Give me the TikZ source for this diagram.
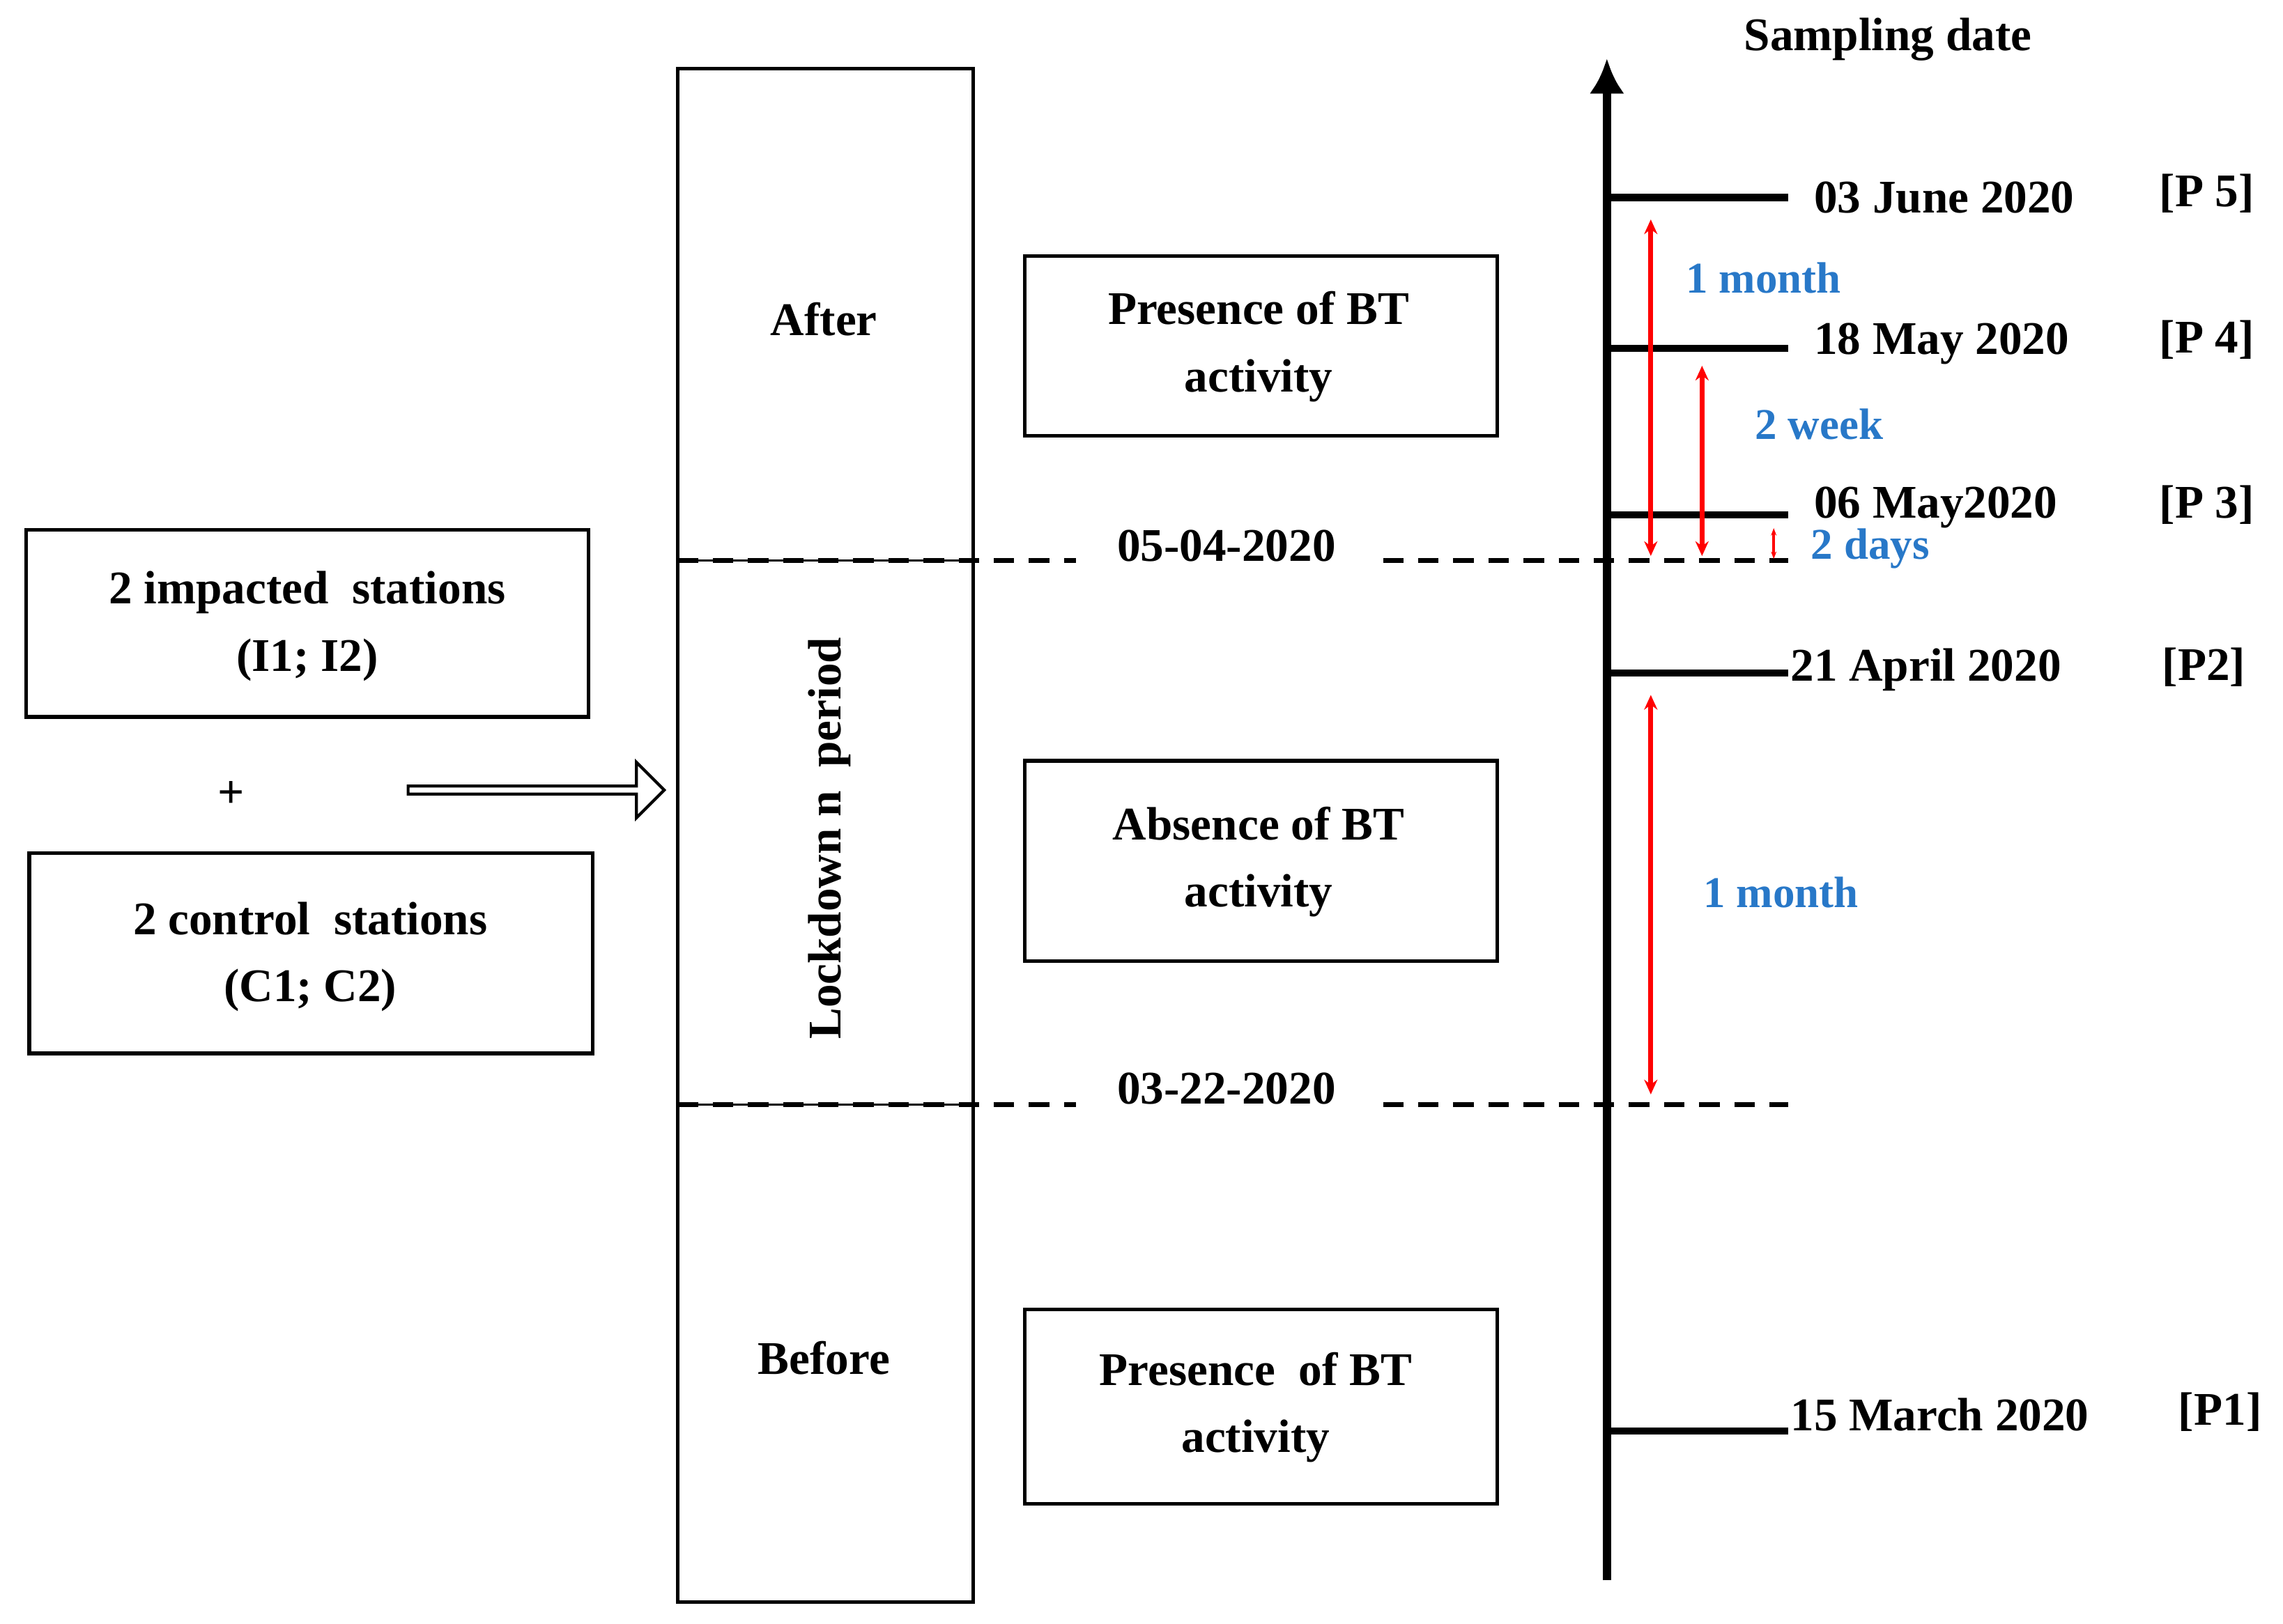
\documentclass[tikz,border=0pt]{standalone}
\usepackage{fontspec}
\setmainfont{Liberation Serif}
\usetikzlibrary{arrows.meta,shapes.arrows}
\definecolor{lblue}{RGB}{40,120,200}
\begin{document}
\begin{tikzpicture}[x=1pt,y=-1pt,
  every node/.style={font=\fontsize{32}{46}\selectfont\bfseries},
  box/.style={draw,line width=2.4pt},
  tick/.style={line width=5pt},
  dline/.style={line width=3.2pt,dash pattern=on 14pt off 10pt},
  redarr/.style={draw=red,line width=3.2pt,{Stealth[length=10pt,width=9pt]}-{Stealth[length=10pt,width=9pt]}},
  blu/.style={text=lblue,font=\fontsize{30}{36}\selectfont\bfseries}]
\useasboundingbox (0,0) rectangle (1560,1110);
% left boxes
\draw[box] (18,362) rectangle (402,490);
\node at (210,428) [align=center] {2 impacted\ \ stations\\(I1; I2)};
\node (plus) at (158,543) {+};
\draw[box] (20,583) rectangle (405,720);
\node at (212,654) [align=center] {2 control\ \ stations\\(C1; C2)};
\node (harrow) [single arrow,draw,line width=2pt,minimum height=175pt,minimum width=38pt,single arrow head extend=6pt,inner sep=0pt] at (365,540) {};
% column
\draw[box] (463,47) rectangle (665,1095);
\draw[line width=1.6pt] (463,383) -- (665,383) (463,755) -- (665,755);
\node at (563,218) {After};
\node at (567,573) [rotate=90] {Lockdown\ n\ \ period};
\node at (563,928) {Before};
% middle boxes
\draw[box] (700,175) rectangle (1023,298);
\node at (860,237) [align=center] {Presence of BT\\activity};
\draw[box] (700,520) rectangle (1023,657);
\node at (860,589) [align=center] {Absence of BT\\activity};
\draw[box] (700,895) rectangle (1023,1028);
\node at (858,962) [align=center] {Presence\ \ of BT\\activity};
% dashed date lines
\draw[dline] (463,383) -- (735,383) (945,383) -- (1222,383);
\draw[dline] (463,755) -- (735,755) (945,755) -- (1222,755);
\node (d1) at (838,373) {05-04-2020};
\node (d2) at (838,744) {03-22-2020};
% axis
\coordinate (ax0) at (1098,1080);
\coordinate (ax1) at (1098,40);
\draw[line width=6pt,-{Latex[length=24pt,width=24pt]}] (ax0) -- (ax1);
\node at (1290,27) {Sampling date};
% ticks
\foreach \y in {135,238,352,460,978} \draw[tick] (1098,\y) -- (1222,\y);
\node[anchor=west] at (1236,135) {03 June 2020};
\node[anchor=west] at (1472,132) {[P 5]};
\node[anchor=west] at (1236,235) {18 May 2020};
\node[anchor=west] at (1472,232) {[P 4]};
\node[anchor=west] at (1236,347) {06 May2020};
\node[anchor=west] at (1472,345) {[P 3]};
\node[anchor=west] at (1220,458) {21 April 2020};
\node[anchor=west] at (1474,456) {[P2]};
\node[anchor=west] at (1220,967) {15 March 2020};
\node[anchor=west] at (1485,965) {[P1]};
% red arrows
\draw[redarr] (1128,150) -- (1128,380);
\draw[redarr] (1163,250) -- (1163,380);
\draw[draw=red,{Stealth[length=5pt]}-{Stealth[length=5pt]},line width=2pt] (1212,361) -- (1212,382);
\draw[redarr] (1128,475) -- (1128,748);
\node[blu] at (1205,190) {1 month};
\node[blu] at (1243,290) {2 week};
\node[blu] at (1278,375) {2 days};
\node[blu] at (1217,610) {1 month};
\end{tikzpicture}
\end{document}
